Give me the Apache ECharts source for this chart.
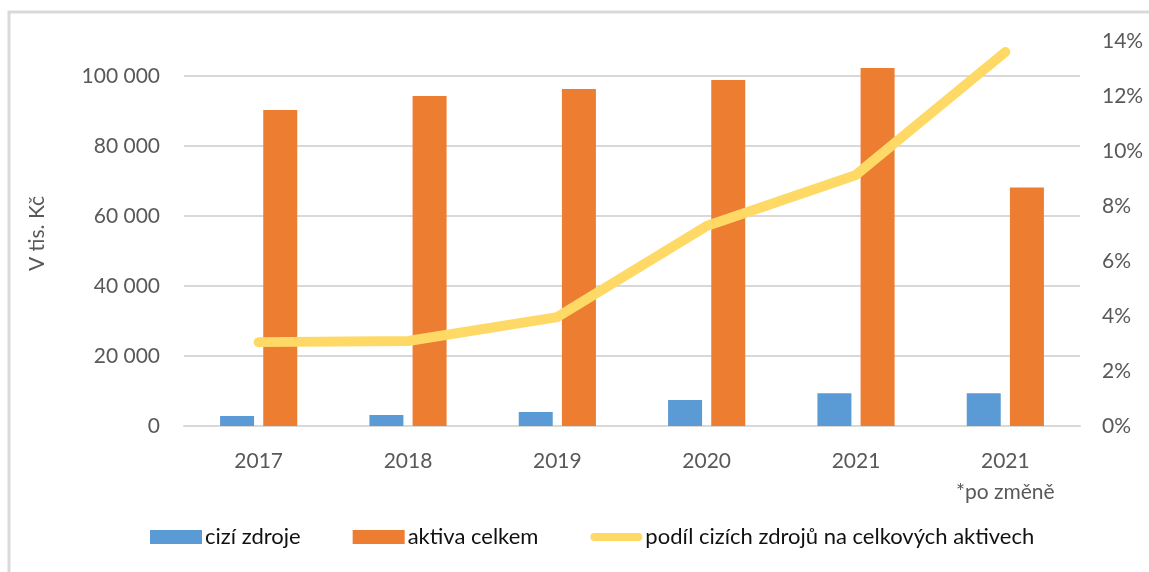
<!DOCTYPE html>
<html>
<head>
<meta charset="utf-8">
<script src="https://cdn.jsdelivr.net/npm/echarts@6/dist/echarts.min.js"></script>
<style>
  html, body { margin: 0; padding: 0; background: #fff; }
  #main { width: 1149px; height: 572px; }
</style>
</head>
<body>
<div id="main"></div>
<script>
// data
const years = ['2017', '2018', '2019', '2020', '2021', '2021\n*po změně'];
const ciziZdroje = [2860, 3140, 4000, 7430, 9340, 9340];
const aktivaCelkem = [90300, 94300, 96300, 98850, 102300, 68150];
const podil = [0.0305, 0.0309, 0.0396, 0.0727, 0.0913, 0.136];

const leftTicks = [0, 20000, 40000, 60000, 80000, 100000];
const rightTicks = [0, 0.02, 0.04, 0.06, 0.08, 0.10, 0.12, 0.14];

const chart = echarts.init(document.getElementById('main'));

const font = 'Lato, "Open Sans", sans-serif';

const option = {
  animation: false,
  textStyle: { fontFamily: font },
  graphic: [{
    type: 'polyline',
    shape: { points: [[9, 572], [9, 12], [1149, 12]] },
    style: { stroke: '#d9d9d9', lineWidth: 3, fill: null },
    silent: true
  }],
  grid: { left: 184, right: 69, top: 41, bottom: 146 },
  legend: {
    bottom: 19,
    left: 145,
    itemWidth: 52,
    itemHeight: 14,
    itemGap: 52,
    symbolKeepAspect: true,
    textStyle: { fontFamily: font, fontSize: 22, color: '#111', padding: [0, 0, 0, -2] },
    data: [
      { name: 'cizí zdroje', icon: 'rect' },
      { name: 'aktiva celkem', icon: 'rect' },
      {
        name: 'podíl cizích zdrojů na celkových aktivech',
        icon: 'path://M4.5,0 L52.5,0 A4.5,4.5 0 0 1 52.5,9 L4.5,9 A4.5,4.5 0 0 1 4.5,0 Z'
      }
    ]
  },
  xAxis: {
    type: 'category',
    data: years,
    axisLine: { lineStyle: { color: '#d9d9d9', width: 2 } },
    axisTick: { show: false },
    axisLabel: { fontFamily: font, fontSize: 21, color: '#595959', margin: 20, lineHeight: 31 }
  },
  yAxis: [{
    type: 'value',
    min: 0,
    max: 110000,
    interval: 20000,
    name: 'V tis. Kč',
    nameLocation: 'middle',
    nameGap: 136,
    nameTextStyle: { fontFamily: font, fontSize: 21, color: '#595959' },
    axisLine: { show: false },
    axisTick: { show: false },
    axisLabel: {
      fontFamily: font, fontSize: 21, color: '#595959', margin: 24,
      showMaxLabel: false,
      formatter: function (v) {
        return leftTicks.indexOf(v) >= 0 ? String(v).replace(/\B(?=(\d{3})+(?!\d))/g, ' ') : '';
      }
    },
    splitLine: {
      lineStyle: {
        color: ['#d9d9d9', '#d9d9d9', '#d9d9d9', '#d9d9d9', '#d9d9d9', '#d9d9d9', 'rgba(0,0,0,0)'],
        width: 2
      }
    }
  }, {
    type: 'value',
    min: 0,
    max: 0.14,
    interval: 0.02,
    axisLine: { show: false },
    axisTick: { show: false },
    splitLine: { show: false },
    axisLabel: {
      fontFamily: font, fontSize: 21, color: '#595959', margin: 22,
      formatter: function (v) {
        const i = rightTicks.findIndex(t => Math.abs(t - v) < 1e-9);
        return i >= 0 ? Math.round(rightTicks[i] * 100) + '%' : '';
      }
    }
  }],
  series: [{
    name: 'cizí zdroje',
    type: 'bar',
    data: ciziZdroje,
    barWidth: 34,
    barGap: '27%',
    itemStyle: { color: '#5b9bd5' }
  }, {
    name: 'aktiva celkem',
    type: 'bar',
    data: aktivaCelkem,
    barWidth: 34,
    itemStyle: { color: '#ed7d31' }
  }, {
    name: 'podíl cizích zdrojů na celkových aktivech',
    type: 'line',
    yAxisIndex: 1,
    data: podil,
    symbol: 'none',
    lineStyle: { color: '#ffd966', width: 10, cap: 'round', join: 'round' },
    itemStyle: { color: '#ffd966' },
    z: 5
  }]
};

chart.setOption(option);
</script>
</body>
</html>
